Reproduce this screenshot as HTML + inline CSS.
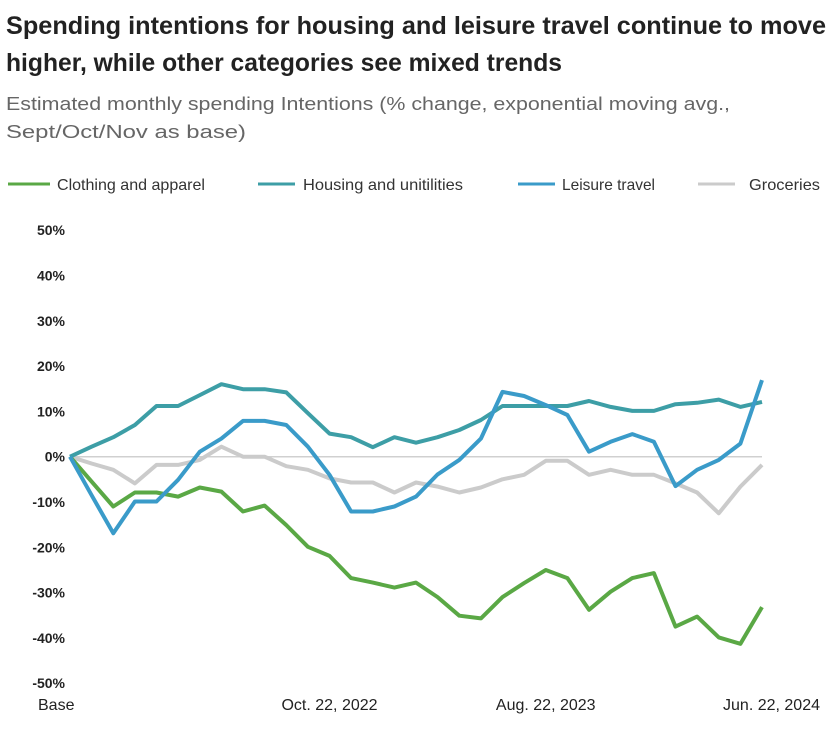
<!DOCTYPE html>
<html><head><meta charset="utf-8"><style>
html,body{margin:0;padding:0;background:#fff;}
svg{display:block;font-family:"Liberation Sans",sans-serif;}
</style></head><body>
<svg id="chart" width="838" height="733">
<text x="6" y="34" font-size="25" font-weight="bold" fill="#222" textLength="820" lengthAdjust="spacingAndGlyphs">Spending intentions for housing and leisure travel continue to move</text>
<text x="6" y="71" font-size="25" font-weight="bold" fill="#222" textLength="556" lengthAdjust="spacingAndGlyphs">higher, while other categories see mixed trends</text>
<text x="6" y="110" font-size="18" fill="#666" textLength="724" lengthAdjust="spacingAndGlyphs">Estimated monthly spending Intentions (% change, exponential moving avg.,</text>
<text x="6" y="138" font-size="18" fill="#666" textLength="240" lengthAdjust="spacingAndGlyphs">Sept/Oct/Nov as base)</text>
<g id="legend"></g>
<g id="yaxis"></g>
<g id="xaxis"></g>
<g id="series"></g>
</svg>
<script>
const seriesNames = ["Clothing and apparel","Housing and unitilities","Leisure travel","Groceries"];
const clothing = [0,-5.5,-11,-7.9,-7.9,-8.8,-6.8,-7.7,-12.1,-10.8,-15.1,-19.9,-21.9,-26.8,-27.8,-28.9,-27.8,-31,-35.1,-35.7,-31,-27.9,-25,-26.8,-33.8,-29.8,-26.8,-25.7,-37.5,-35.3,-39.9,-41.3,-33.2];
const housing = [0,2.2,4.3,7,11.2,11.2,13.6,16,14.9,14.9,14.2,9.6,5.1,4.3,2.1,4.3,3.1,4.3,5.9,8.1,11.2,11.2,11.2,11.2,12.3,11,10.1,10.1,11.6,11.9,12.6,11,12.1];
const leisure = [0,-8.5,-16.9,-9.9,-9.9,-5.1,1.1,4,7.9,7.9,7,2.2,-4,-12.1,-12.1,-11,-8.8,-3.9,-0.7,4,14.3,13.4,11.4,9.2,1.1,3.3,5,3.3,-6.5,-2.9,-0.7,2.9,16.9];
const groceries = [0,-1.5,-2.9,-5.9,-1.8,-1.8,-0.7,2.2,0,0,-2.1,-2.9,-4.8,-5.7,-5.7,-7.9,-5.7,-6.6,-7.9,-6.8,-5,-4,-0.9,-0.9,-4,-2.9,-4,-4,-5.9,-7.9,-12.5,-6.6,-1.8];
const yTicks = [50,40,30,20,10,0,-10,-20,-30,-40,-50];
const xLabels = ["Base","Oct. 22, 2022","Aug. 22, 2023","Jun. 22, 2024"];
const xLabelIdx = [0,12,22,32];

const colors = ["#5aa845","#3d9ea6","#3a9bc9","#cbcbcb"];
const NS = "http://www.w3.org/2000/svg";
const x0 = 70, x1 = 762, n = clothing.length;
const xs = i => x0 + (x1 - x0) * i / (n - 1);
const ys = v => 456.7 - v * 4.53;
function mk(tag, attrs, parent){const e=document.createElementNS(NS,tag);for(const k in attrs)e.setAttribute(k,attrs[k]);parent.appendChild(e);return e;}

const yaxis = document.getElementById('yaxis');
yTicks.forEach(t=>{
  const tx = mk('text',{x:65,y:ys(t)+5,'font-size':14,'font-weight':'bold','text-anchor':'end',fill:'#222'},yaxis);
  
  
  tx.textContent = t + '%';
});
const zl = mk('line',{x1:x0,x2:x1,y1:ys(0),y2:ys(0),stroke:'#d0d0d0','stroke-width':1.5},yaxis);



const xaxis = document.getElementById('xaxis');
xLabels.forEach((l,k)=>{
  const i = xLabelIdx[k];
  let anchor='middle', x=xs(i);
  if(k===0){anchor='start'; x=38;}
  if(k===xLabels.length-1){anchor='end'; x=820;}
  const tx = mk('text',{x:x,y:710,'font-size':16,'text-anchor':anchor,fill:'#222'},xaxis);
  
  
  tx.textContent = l;
});

const data = [clothing, housing, leisure, groceries];
const order = [3,0,1,2];
const sg = document.getElementById('series');
order.forEach(s=>{
  const pts = data[s].map((v,i)=>xs(i).toFixed(1)+','+ys(v).toFixed(1)).join(' ');
  const pl = mk('polyline',{points:pts,fill:'none',stroke:colors[s],'stroke-width':4,'stroke-linejoin':'round'},sg);
  
  
});

const lg = document.getElementById('legend');
const legX = [[8,50,57,148],[258,295,303,160],[518,555,562,93],[698,735,749,71]];
seriesNames.forEach((nm,s)=>{
  const L = legX[s];
  const g = mk('g',{},lg);
  
  
  mk('line',{x1:L[0],x2:L[1],y1:184,y2:184,stroke:colors[s],'stroke-width':3},g);
  const t = mk('text',{x:L[2],y:190,'font-size':16,fill:'#333',textLength:L[3],lengthAdjust:'spacingAndGlyphs'},g);
  t.textContent = nm;
});
</script>
</body></html>
